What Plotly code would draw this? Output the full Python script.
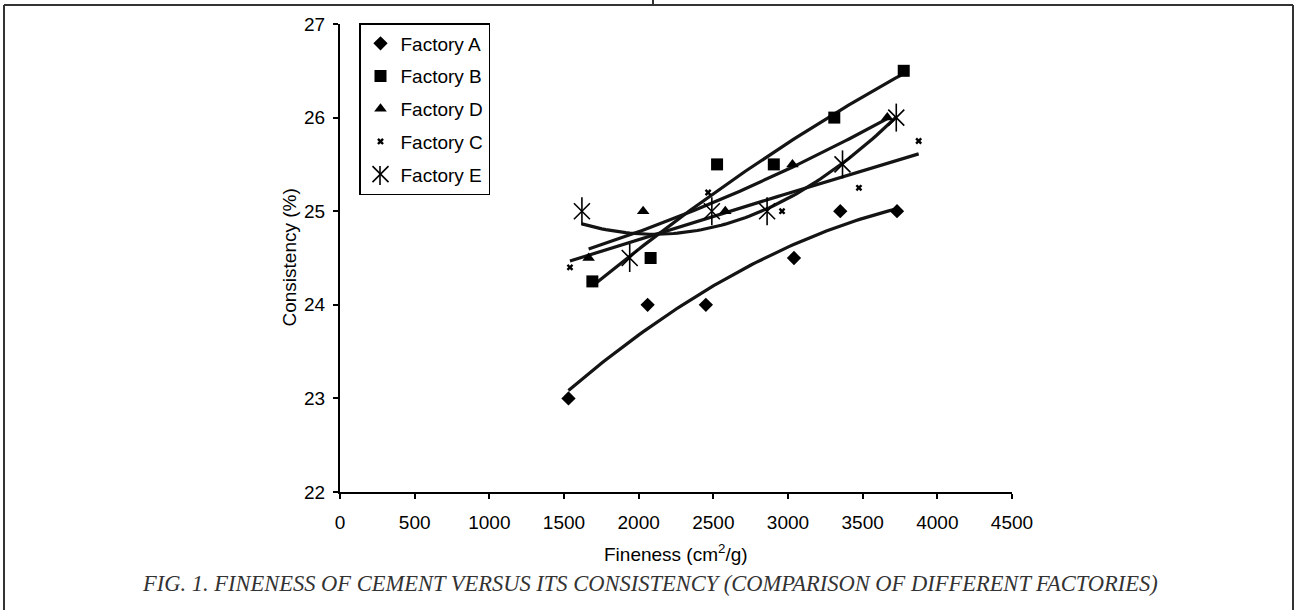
import numpy as np
import plotly.graph_objects as go

# ---- data ----
a_x = [1530, 2060, 2450, 3040, 3350, 3730]
a_y = [23.0, 24.0, 24.0, 24.5, 25.0, 25.0]
b_x = [1690, 2080, 2525, 2905, 3310, 3775]
b_y = [24.25, 24.5, 25.5, 25.5, 26.0, 26.5]
d_x = [1665, 2030, 2580, 3030, 3665]
d_y = [24.5, 25.0, 25.0, 25.5, 26.0]
c_x = [1540, 2465, 2960, 3475, 3875]
c_y = [24.4, 25.2, 25.0, 25.25, 25.75]
e_x = [1620, 1940, 2490, 2860, 3365, 3725]
e_y = [25.0, 24.5, 25.0, 25.0, 25.5, 26.0]

x_ticks = [0, 500, 1000, 1500, 2000, 2500, 3000, 3500, 4000, 4500]
y_ticks = [22, 23, 24, 25, 26, 27]

W, H = 1297, 610
L, R, T, B = 340, 1012, 24, 492  # plot area in pixels

def px(x):
    return (x - L) / (R - L)

def py(y):
    return (B - y) / (B - T)

FONT = "Liberation Sans, Arial, sans-serif"
FS = 19
fig = go.Figure()

series = [
    ("Factory A", a_x, a_y, dict(symbol="diamond", size=11, color="black")),
    ("Factory B", b_x, b_y, dict(symbol="square", size=12, color="black")),
    ("Factory D", d_x, d_y, dict(symbol="triangle-up", size=11, color="black")),
    ("Factory C", c_x, c_y, dict(symbol="x", size=6, color="black", line=dict(width=0))),
    ("Factory E", e_x, e_y, dict(symbol="x-thin-open", size=16, color="black",
                                 line=dict(width=1.6, color="black"))),
]

# trendlines (2nd order polynomial fits of each series)
for name, xs, ys, mk in series:
    coef = np.polyfit(xs, ys, 2)
    xx = np.linspace(min(xs), max(xs), 80)
    fig.add_trace(go.Scatter(x=xx, y=np.polyval(coef, xx), mode="lines",
                             line=dict(color="#141414", width=3.2),
                             showlegend=False, hoverinfo="skip"))

for i, (name, xs, ys, mk) in enumerate(series):
    fig.add_trace(go.Scatter(x=xs, y=ys, mode="markers", name=name, marker=mk,
                             legendgroup=f"g{i}"))

# vertical arm of the asterisk markers for Factory E
fig.add_trace(go.Scatter(x=e_x, y=e_y, mode="markers", showlegend=False,
                         legendgroup="g4",
                         marker=dict(symbol="line-ns-open", size=20, color="black",
                                     line=dict(width=1.6, color="black"))))

fig.update_layout(
    width=W, height=H,
    margin=dict(l=L, r=W - R, t=T, b=H - B),
    paper_bgcolor="white", plot_bgcolor="white",
    font=dict(family=FONT, size=FS, color="black"),
    legend=dict(x=px(359), y=py(23), xanchor="left", yanchor="top",
                bordercolor="black", borderwidth=1.5, bgcolor="rgba(0,0,0,0)",
                font=dict(size=FS, family=FONT), tracegroupgap=5,
                itemwidth=30),
    xaxis=dict(range=[0, 4500], tickvals=x_ticks, ticks="outside", ticklen=5,
               tickwidth=1.5, tickcolor="black", showline=True, linewidth=2,
               linecolor="black", showgrid=False, zeroline=False,
               ticklabelstandoff=7,
               tickfont=dict(size=FS, family=FONT)),
    yaxis=dict(range=[22, 27], tickvals=y_ticks, ticks="outside", ticklen=5,
               tickwidth=1.5, tickcolor="black", showline=True, linewidth=2,
               linecolor="black", showgrid=False, zeroline=False,
               ticklabelstandoff=4,
               tickfont=dict(size=FS, family=FONT)),
    annotations=[
        dict(text="Fineness (cm<sup>2</sup>/g)", x=px(676), y=py(567),
             xref="paper", yref="paper", showarrow=False,
             font=dict(size=FS, family=FONT)),
        dict(text="Consistency (%)", x=px(276), y=py(258), textangle=-90,
             xref="paper", yref="paper", showarrow=False,
             font=dict(size=FS, family=FONT)),
        dict(text="<i>FIG. 1. FINENESS OF CEMENT VERSUS ITS CONSISTENCY (COMPARISON OF DIFFERENT FACTORIES)</i>",
             x=px(650), y=py(598), xref="paper", yref="paper", showarrow=False,
             font=dict(size=22.5, family="Liberation Serif, Times New Roman, serif",
                       color="#333333")),
    ],
    shapes=[
        dict(type="line", xref="paper", yref="paper", x0=px(4), x1=px(4),
             y0=py(5), y1=py(612), line=dict(color="#333333", width=2)),
        dict(type="line", xref="paper", yref="paper", x0=px(4), x1=px(1293),
             y0=py(5), y1=py(5), line=dict(color="#333333", width=2)),
        dict(type="line", xref="paper", yref="paper", x0=px(1293), x1=px(1293),
             y0=py(5), y1=py(612), line=dict(color="#333333", width=2)),
        dict(type="line", xref="paper", yref="paper", x0=px(653), x1=px(653),
             y0=py(0), y1=py(5), line=dict(color="#333333", width=2)),
        # vertical arm of the Factory E legend symbol
        dict(type="line", xref="paper", yref="paper", x0=px(380), x1=px(380),
             y0=py(166), y1=py(185), line=dict(color="black", width=1.6)),
    ],
)

fig.write_html("out.html", config={"displayModeBar": False},
               post_script="document.body.style.margin='0';document.body.style.padding='0';")
